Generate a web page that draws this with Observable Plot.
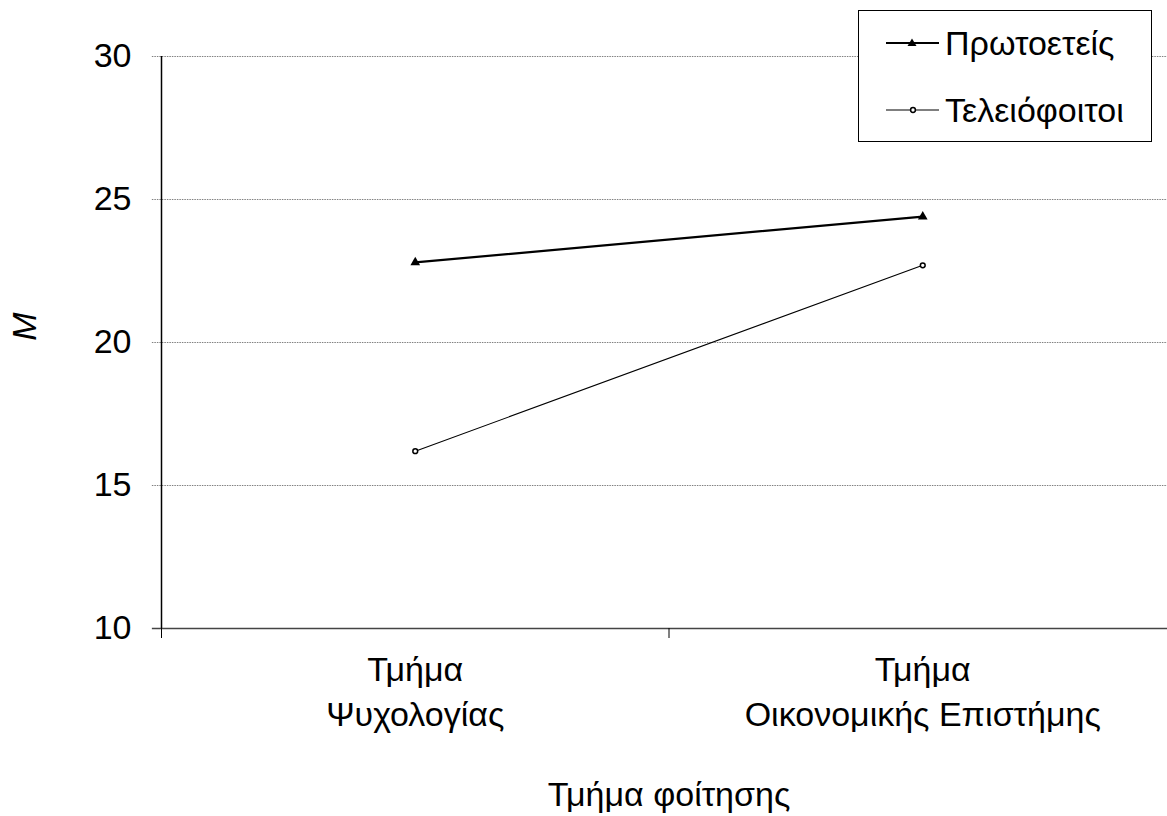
<!DOCTYPE html>
<html>
<head>
<meta charset="utf-8">
<script src="https://cdn.jsdelivr.net/npm/d3@7"></script>
<script src="https://cdn.jsdelivr.net/npm/@observablehq/plot@0.6"></script>
<style>
  html, body { margin: 0; padding: 0; background: #fff; }
  #wrap { position: relative; width: 1167px; height: 816px; overflow: hidden; font-family: "Liberation Sans", Arial, sans-serif; }
  #legend { position: absolute; left: 858px; top: 10px; width: 294px; height: 132px; border: 1.5px solid #000; background: #fff; box-sizing: border-box; }
  #legend .row { position: absolute; left: 0; height: 40px; display: flex; align-items: center; }
  #legend .lbl { font-size: 34px; margin-left: 6px; color: #000; }
</style>
</head>
<body>
<div id="wrap"></div>
<script>
const departments = ["Τμήμα\nΨυχολογίας", "Τμήμα\nΟικονομικής Επιστήμης"];
const deptPos = [0.5, 1.5];
const series = ["Πρωτοετείς", "Τελειόφοιτοι"];
const firstYear = [22.8, 24.4];
const finalYear = [16.2, 22.7];
const yTicks = [10, 15, 20, 25, 30];
const yGrid = [15, 20, 25, 30];
const xTicks = [0, 1, 2];
const xTitle = "Τμήμα φοίτησης";
const yTitle = "M";

const rows = [];
departments.forEach((d, i) => {
  rows.push({dept: d, x: deptPos[i], group: series[0], value: firstYear[i]});
  rows.push({dept: d, x: deptPos[i], group: series[1], value: finalYear[i]});
});
const s1 = rows.filter(r => r.group === series[0]);
const s2 = rows.filter(r => r.group === series[1]);

const FS = 34;
const chart = Plot.plot({
  width: 1167,
  height: 816,
  marginLeft: 161,
  marginRight: 0,
  marginTop: 56,
  marginBottom: 188,
  style: {fontFamily: "Liberation Sans, Arial, sans-serif", fontSize: FS + "px", background: "#fff", color: "#000", overflow: "visible"},
  x: {type: "linear", domain: [0, 2], range: [161, 1176], label: null},
  y: {type: "linear", domain: [10, 30], range: [628, 56], label: null},
  marks: [
    Plot.ruleY(yGrid, {x1: -0.018, x2: 2, stroke: "#808080", strokeWidth: 1.2, strokeDasharray: "1.5,1"}),
    Plot.ruleY([10], {x1: -0.018, x2: 2, stroke: "#444", strokeWidth: 1.6}),
    Plot.ruleX([0], {y1: 10, y2: 30, stroke: "#000", strokeWidth: 1.5}),
    Plot.axisY({ticks: yTicks, tickSize: 0, tickPadding: 30, fontSize: FS, label: null}),
    Plot.axisX({ticks: xTicks, tickSize: 10, tickFormat: () => "", stroke: "#000", label: null}),
    Plot.text(departments, {x: (d, i) => deptPos[i], y: 10, text: d => d, dy: 20, lineAnchor: "top", lineHeight: 1.33, fontSize: FS, fill: "#000"}),
    Plot.text([xTitle], {x: 1, y: 10, text: d => d, dy: 167, fontSize: FS, fill: "#000"}),
    Plot.text([yTitle], {x: 0, y: 20, text: d => d, dx: -136, dy: -16, rotate: -90, fontSize: FS, fontStyle: "italic", fill: "#000"}),
    Plot.line(s1, {x: "x", y: "value", stroke: "#000", strokeWidth: 2.2}),
    Plot.line(s2, {x: "x", y: "value", stroke: "#000", strokeWidth: 1.1}),
    Plot.dot(s1, {x: "x", y: "value", symbol: "triangle", r: 3.6, fill: "#000", stroke: "none"}),
    Plot.dot(s2, {x: "x", y: "value", symbol: "circle", r: 2.4, fill: "#fff", stroke: "#000", strokeWidth: 1.5})
  ]
});

const wrap = document.getElementById("wrap");
wrap.appendChild(chart);

// legend
const legend = document.createElement("div");
legend.id = "legend";
const sym = [
  `<svg width="53" height="20"><line x1="0" y1="10" x2="53" y2="10" stroke="#000" stroke-width="2.2"/><path d="M26,5.5 L30.5,13 L21.5,13 Z" fill="#000"/></svg>`,
  `<svg width="53" height="20"><line x1="0" y1="10" x2="53" y2="10" stroke="#000" stroke-width="1.1"/><circle cx="27" cy="10" r="2.4" fill="#fff" stroke="#000" stroke-width="1.5"/></svg>`
];
series.forEach((s, i) => {
  const row = document.createElement("div");
  row.className = "row";
  row.style.left = "27px";
  row.style.top = (i === 0 ? 12 : 79) + "px";
  row.innerHTML = sym[i] + `<span class="lbl">${s}</span>`;
  legend.appendChild(row);
});
wrap.appendChild(legend);
</script>
</body>
</html>
